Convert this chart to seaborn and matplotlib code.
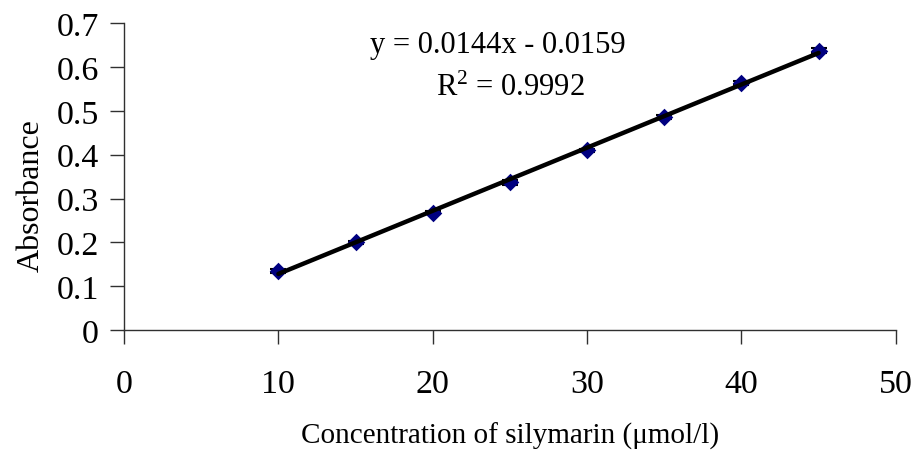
import matplotlib
matplotlib.use("Agg")
import matplotlib.pyplot as plt
import numpy as np
import pandas as pd
import seaborn as sns

# Calibration data: silymarin concentration vs absorbance
concentration = [10, 15, 20, 25, 30, 35, 40, 45]
absorbance = [0.135, 0.200, 0.268, 0.337, 0.410, 0.486, 0.564, 0.637]
abs_error = [0.004, 0.004, 0.004, 0.005, 0.004, 0.004, 0.004, 0.006]

# Linear trendline as reported
slope = 0.0144
intercept = -0.0159
r_squared = 0.9992

x_ticks = [0, 10, 20, 30, 40, 50]
y_ticks = [0, 0.1, 0.2, 0.3, 0.4, 0.5, 0.6, 0.7]

sns.set_theme(style="white")
plt.rcParams["font.family"] = ["Liberation Serif", "DejaVu Serif"]
plt.rcParams["mathtext.fontset"] = "custom"
plt.rcParams["mathtext.rm"] = "Liberation Serif"
plt.rcParams["mathtext.default"] = "regular"
plt.rcParams["text.color"] = "black"
plt.rcParams["axes.labelcolor"] = "black"

df = pd.DataFrame({"conc": concentration, "abs": absorbance, "err": abs_error})
fit_x = [min(concentration), max(concentration)]
fit = pd.DataFrame({"conc": fit_x, "abs": [slope * v + intercept for v in fit_x]})

fig = plt.figure(figsize=(9.16, 4.56), dpi=100)
ax = fig.add_axes([0.1354, 0.274, 0.8426, 0.673])

ax.errorbar(df["conc"], df["abs"], yerr=df["err"], fmt="none",
            ecolor="black", elinewidth=1.2, capsize=6, capthick=1.5, zorder=2)
sns.scatterplot(data=df, x="conc", y="abs", marker="D", s=80, color="#000080",
                edgecolor="#000080", linewidth=0, ax=ax, zorder=3)
sns.lineplot(data=fit, x="conc", y="abs", color="black", linewidth=3.2,
             ax=ax, zorder=4)

ax.set_xlim(0, 50)
ax.set_ylim(0, 0.7)
ax.set_xticks(x_ticks)
ax.set_yticks(y_ticks)
ax.set_xticklabels([str(v) for v in x_ticks])
ax.set_yticklabels(["0" if v == 0 else f"{v:.1f}" for v in y_ticks])

for side in ("top", "right"):
    ax.spines[side].set_visible(False)
for side in ("left", "bottom"):
    ax.spines[side].set_color("#303030")
    ax.spines[side].set_linewidth(1.0)

ax.tick_params(axis="both", which="major", direction="out", length=10,
               width=1.0, color="#303030", labelsize=24.5, labelcolor="black",
               bottom=True, left=True)
ax.tick_params(axis="x", pad=18)
ax.tick_params(axis="y", pad=8)

ax.set_xlabel("Concentration of silymarin (\u03bcmol/l)", fontsize=21,
              labelpad=16, color="black")
ax.set_ylabel("Absorbance", fontsize=23, color="black")
ax.yaxis.set_label_coords(-0.101, 0.44)

ax.text(24.2, 0.652, f"y = {slope}x - {abs(intercept)}", fontsize=22,
        ha="center", va="center", color="black")
ax.text(25.0, 0.553, f"R$^{{2}}$ = {r_squared}", fontsize=22,
        ha="center", va="center", color="black")

fig.savefig("out.png", dpi=100)
